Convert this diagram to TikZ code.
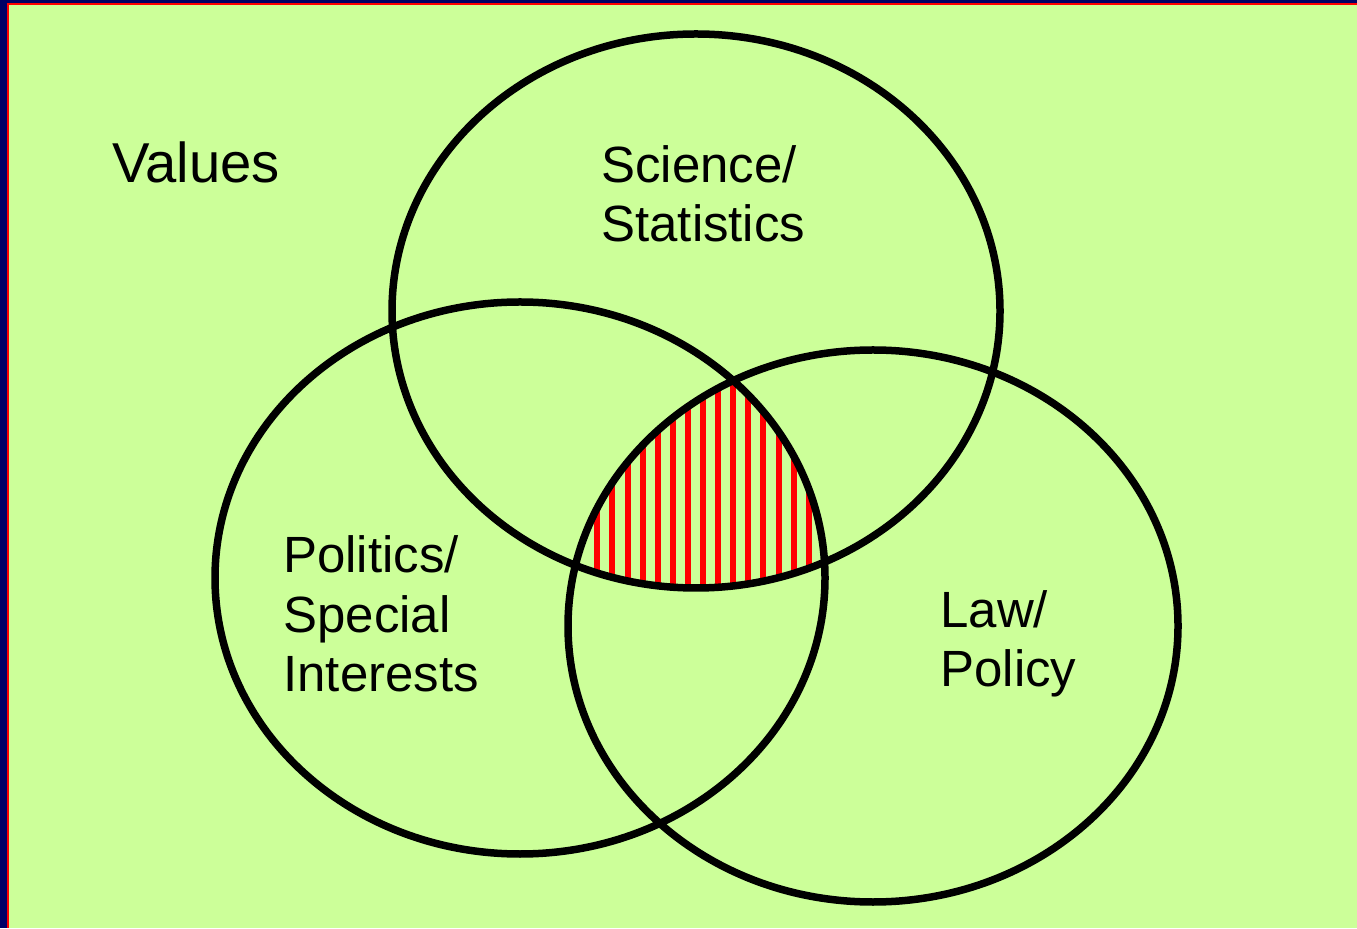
\documentclass[tikz,border=0pt]{standalone}
\usepackage{fontspec}
\setmainfont{Liberation Sans}
\usetikzlibrary{calc}

\definecolor{slidebg}{HTML}{CCFF99}
\definecolor{slideframe}{HTML}{000066}

\tikzset{
    lbl/.style={anchor=base west, inner sep=0pt, align=left,
        font=\fontsize{29}{34}\selectfont},
    ring/.style={line width=0.15cm, black}
}

\begin{document}
\begin{tikzpicture}
    \useasboundingbox (0,0) rectangle (27.14,18.56);
    % frame and background
    \fill[slideframe] (0,0) rectangle (27.14,18.56);
    \fill[red] (0.14,0) rectangle (27.14,18.50);
    \fill[slidebg] (0.18,0) rectangle (27.14,18.46);

    \coordinate (sci) at (13.92,12.34);
    \coordinate (pol) at (10.40,7.00);
    \coordinate (law) at (17.46,6.04);

    % stripes in the common part of the three sets
    \begin{scope}
        \clip (sci) ellipse [x radius=6.08, y radius=5.54];
        \clip (pol) ellipse [x radius=6.10, y radius=5.52];
        \clip (law) ellipse [x radius=6.10, y radius=5.52];
        \foreach \i in {0,...,14}
            \draw[red, line width=0.12cm] ({11.946+0.302*\i},6.5) -- ++(0,6);
    \end{scope}

    \draw[ring] (sci) ellipse [x radius=6.08, y radius=5.54];
    \draw[ring] (pol) ellipse [x radius=6.10, y radius=5.52];
    \draw[ring] (law) ellipse [x radius=6.10, y radius=5.52];

    \node[lbl, font=\fontsize{32}{38}\selectfont] (values) at (2.24,14.90) {Values};
    \node[lbl] (science) at (12.02,13.72) {Science/\\Statistics};
    \node[lbl] (politics) at (5.66,4.72) {Politics/\\Special\\Interests};
    \node[lbl] (lawpol) at (18.80,4.82) {Law/\\Policy};
\end{tikzpicture}
\end{document}
